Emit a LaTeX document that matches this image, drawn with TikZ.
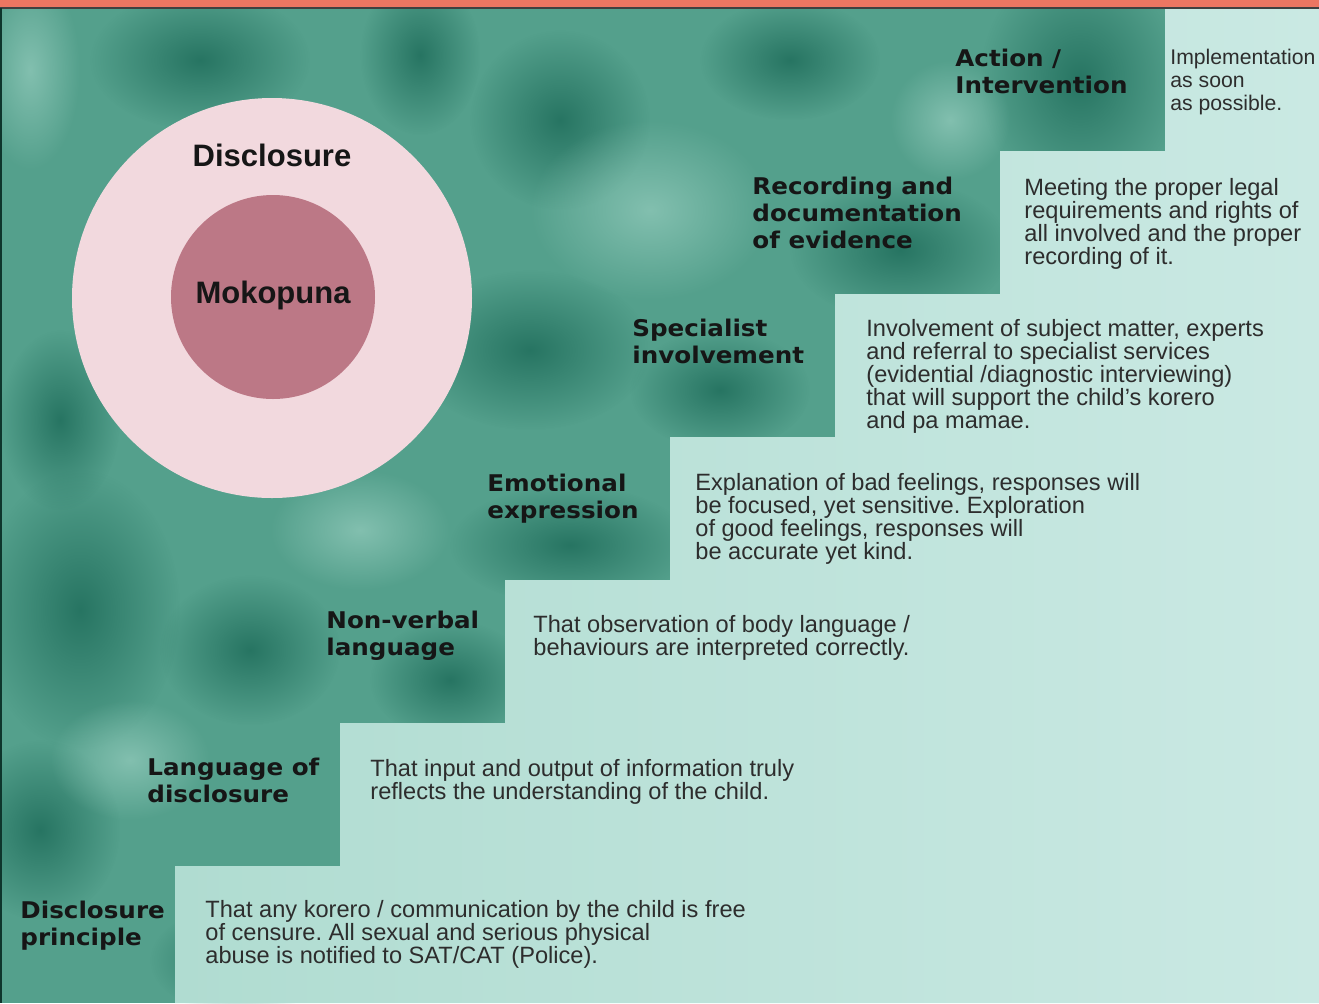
\documentclass[tikz,border=0pt]{standalone}
\usepackage{fontspec}
\setmainfont{Liberation Sans}
\newfontfamily\labelfont[FakeStretch=1.07]{DejaVu Sans}
\usepackage{xcolor}
\usetikzlibrary{math, fadings}
\definecolor{mysalmon}{RGB}{236,118,98}
\definecolor{myteal}{RGB}{84,160,140}
\definecolor{mydarkteal}{RGB}{28,106,88}
\definecolor{mypaleteal}{RGB}{150,205,190}
\definecolor{mystepleft}{RGB}{176,220,209}
\definecolor{mystepright}{RGB}{202,233,227}
\definecolor{mypink}{RGB}{242,217,222}
\definecolor{mymauve}{RGB}{188,120,134}
\definecolor{mytext}{RGB}{22,22,22}
\tikzfading[name=softspot, inner color=transparent!0, outer color=transparent!100]

\tikzset{
  steplabel/.style={anchor=north west, inner sep=0, align=left, text=mytext,
    font=\labelfont\bfseries\fontsize{11.5}{13.3}\selectfont},
  steptext/.style={anchor=north west, inner sep=0, align=left, text=mytext!90,
    font=\fontsize{11.8}{11.5}\selectfont},
  ringtext/.style={inner sep=0, text=mytext, font=\bfseries\fontsize{15.5}{17}\selectfont},
  darkblob/.style={fill=mydarkteal, fill opacity=0.8, path fading=softspot},
  lightblob/.style={fill=mypaleteal, fill opacity=0.7, path fading=softspot}
}

\begin{document}
\frenchspacing
\begin{tikzpicture}[x=0.5pt, y=-0.5pt]
\tikzmath{
\wid=1319; \hgt=1003;
\xa=175; \ya=866;
\dx=165; \dy=143;
}

\useasboundingbox (0,0) rectangle (\wid,\hgt);

% teal backdrop with soft patches
\fill[myteal] (0,0) rectangle (\wid,\hgt);
\fill[darkblob] (200,60) ellipse [x radius=110, y radius=70];
\fill[darkblob] (420,55) ellipse [x radius=60, y radius=80];
\fill[darkblob] (560,120) ellipse [x radius=90, y radius=90];
\fill[darkblob] (790,60) ellipse [x radius=90, y radius=60];
\fill[darkblob] (1080,80) ellipse [x radius=100, y radius=120];
\fill[darkblob] (900,250) ellipse [x radius=110, y radius=70];
\fill[darkblob] (530,350) ellipse [x radius=120, y radius=80];
\fill[darkblob] (570,545) ellipse [x radius=120, y radius=60];
\fill[darkblob] (80,610) ellipse [x radius=100, y radius=140];
\fill[darkblob] (250,650) ellipse [x radius=90, y radius=75];
\fill[darkblob] (40,830) ellipse [x radius=80, y radius=90];
\fill[darkblob] (450,680) ellipse [x radius=80, y radius=60];
\fill[darkblob] (720,390) ellipse [x radius=90, y radius=60];
\fill[darkblob] (240,960) ellipse [x radius=90, y radius=55];
\fill[darkblob] (60,420) ellipse [x radius=60, y radius=90];
\fill[lightblob] (650,210) ellipse [x radius=120, y radius=90];
\fill[lightblob] (30,70) ellipse [x radius=50, y radius=100];
\fill[lightblob] (360,530) ellipse [x radius=90, y radius=60];
\fill[lightblob] (130,760) ellipse [x radius=80, y radius=60];
\fill[lightblob] (950,120) ellipse [x radius=60, y radius=60];

% the stairs
\shade[left color=mystepleft, right color=mystepright]
  (\xa,\hgt) -- (\xa,\ya)
  -- (\xa+\dx,\ya) -- (\xa+\dx,\ya-\dy)
  -- (\xa+2*\dx,\ya-\dy) -- (\xa+2*\dx,\ya-2*\dy)
  -- (\xa+3*\dx,\ya-2*\dy) -- (\xa+3*\dx,\ya-3*\dy)
  -- (\xa+4*\dx,\ya-3*\dy) -- (\xa+4*\dx,\ya-4*\dy)
  -- (\xa+5*\dx,\ya-4*\dy) -- (\xa+5*\dx,\ya-5*\dy)
  -- (\xa+6*\dx,\ya-5*\dy) -- (\xa+6*\dx,\ya-6*\dy)
  -- (\wid,\ya-6*\dy) -- (\wid,\hgt) -- cycle;

% rings
\fill[mypink] (272,298) circle [radius=200];
\fill[mymauve] (273,297) circle [radius=102];

\node[ringtext] (disclosure) at (272,155) {Disclosure};
\node[ringtext] (mokopuna) at (273,295) {Mokopuna};

% step names
\node[steplabel] (principle) at (20,901) {Disclosure\\principle};
\node[steplabel] (language) at (147,758) {Language of\\disclosure};
\node[steplabel] (nonverbal) at (326,611) {Non-verbal\\language};
\node[steplabel] (emotional) at (487,474) {Emotional\\expression};
\node[steplabel] (specialist) at (632,319) {Specialist\\involvement};
\node[steplabel] (recording) at (752,177) {Recording and\\documentation\\of evidence};
\node[steplabel] (action) at (955,49) {Action /\\Intervention};

% step descriptions
\node[steptext] (principletext) at (205,900) {That any korero / communication by the child is free\\of censure. All sexual and serious physical\\abuse is notified to SAT/CAT (Police).};
\node[steptext] (languagetext) at (370,759) {That input and output of information truly\\reflects the understanding of the child.};
\node[steptext] (nonverbaltext) at (533,615) {That observation of body language /\\behaviours are interpreted correctly.};
\node[steptext] (emotionaltext) at (695,473) {Explanation of bad feelings, responses will\\be focused, yet sensitive. Exploration\\of good feelings, responses will\\be accurate yet kind.};
\node[steptext] (specialisttext) at (866,319) {Involvement of subject matter, experts\\and referral to specialist services\\(evidential /diagnostic interviewing)\\that will support the child's korero\\and pa mamae.};
\node[steptext] (recordingtext) at (1024,178) {Meeting the proper legal\\requirements and rights of\\all involved and the proper\\recording of it.};
\node[steptext, font=\fontsize{10.6}{11.5}\selectfont] (actiontext) at (1170,49) {Implementation\\as soon\\as possible.};

% frame
\fill[mysalmon] (0,0) rectangle (\wid,7);
\draw[line width=1, black!75] (0,8) -- (\wid,8);
\draw[line width=1.2, mydarkteal!50!black] (1,8) -- (1,\hgt);

\end{tikzpicture}
\end{document}
